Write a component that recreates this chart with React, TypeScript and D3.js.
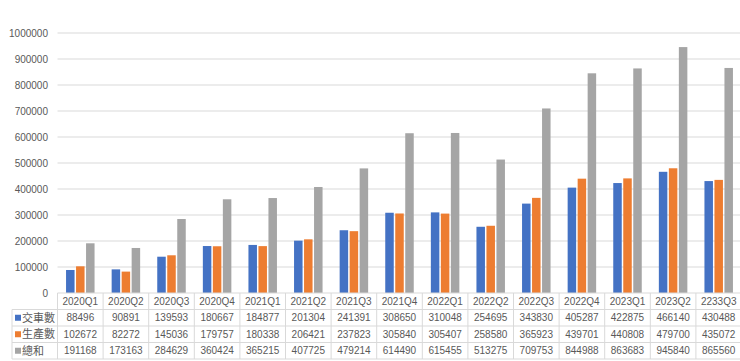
import React, { useRef, useEffect } from 'react';
import * as d3 from 'd3';

const quarters = [
  '2020Q1', '2020Q2', '2020Q3', '2020Q4', '2021Q1', '2021Q2', '2021Q3', '2021Q4',
  '2022Q1', '2022Q2', '2022Q3', '2022Q4', '2023Q1', '2023Q2', '2233Q3',
];
const delivered = [
  88496, 90891, 139593, 180667, 184877, 201304, 241391, 308650,
  310048, 254695, 343830, 405287, 422875, 466140, 430488,
];
const produced = [
  102672, 82272, 145036, 179757, 180338, 206421, 237823, 305840,
  305407, 258580, 365923, 439701, 440808, 479700, 435072,
];
const total = [
  191168, 173163, 284629, 360424, 365215, 407725, 479214, 614490,
  615455, 513275, 709753, 844988, 863683, 945840, 865560,
];
const seriesNames = ['交車數', '生產數', '總和'];
const seriesColors = ['#4472C4', '#ED7D31', '#A5A5A5'];
const yTicks = [0, 100000, 200000, 300000, 400000, 500000, 600000, 700000, 800000, 900000, 1000000];

const W = 740;
const H = 361;

const App: React.FC = () => {
  const svgRef = useRef<SVGSVGElement | null>(null);

  useEffect(() => {
    const svg = d3.select(svgRef.current);
    svg.selectAll('*').remove();

    const left = 57.5;
    const right = 741.5;
    const y0 = 293;
    const rowH = 16.5;
    const textCol = '#595959';
    const lineCol = '#D9D9D9';
    const font = "'Liberation Sans', Arial, sans-serif";
    const cjk = "'Noto Sans CJK TC', 'Noto Sans CJK SC', sans-serif";

    const series = [delivered, produced, total];

    const x = d3.scaleBand<string>().domain(quarters).range([left, right]).padding(0);
    const xs = d3.scaleBand<number>().domain([0, 1, 2]).range([0, x.bandwidth()])
      .paddingInner(0.15).paddingOuter(0.855);
    const y = d3.scaleLinear().domain([0, 1000000]).range([y0, 33]);

    // gridlines
    svg.append('g').selectAll('line').data(yTicks.slice(1)).join('line')
      .attr('x1', left).attr('x2', right)
      .attr('y1', d => y(d)).attr('y2', d => y(d))
      .attr('stroke', lineCol).attr('stroke-width', 1);

    // y labels
    svg.append('g').selectAll('text').data(yTicks).join('text')
      .attr('x', 48).attr('y', d => y(d))
      .attr('dy', '0.35em')
      .attr('text-anchor', 'end')
      .style('font-family', font).style('font-size', '10px')
      .attr('fill', textCol)
      .text(d => d);

    // bars
    series.forEach((vals, si) => {
      svg.append('g').selectAll('rect').data(vals).join('rect')
        .attr('x', (d, i) => (x(quarters[i]) as number) + (xs(si) as number))
        .attr('width', xs.bandwidth())
        .attr('y', d => y(d))
        .attr('height', d => y0 - y(d))
        .attr('fill', seriesColors[si]);
    });

    // data table
    const table = svg.append('g');
    const rowsY = [y0, y0 + rowH, y0 + rowH * 2, y0 + rowH * 3, y0 + rowH * 4];
    // horizontal lines
    rowsY.forEach((ry, i) => {
      table.append('line')
        .attr('x1', i === 0 ? left : 12).attr('x2', right)
        .attr('y1', ry).attr('y2', ry)
        .attr('stroke', lineCol);
    });
    // vertical lines
    quarters.forEach(q => {
      const cx = x(q) as number;
      table.append('line')
        .attr('x1', cx).attr('x2', cx)
        .attr('y1', y0).attr('y2', rowsY[4])
        .attr('stroke', lineCol);
    });
    table.append('line')
      .attr('x1', 12).attr('x2', 12)
      .attr('y1', rowsY[1]).attr('y2', rowsY[4])
      .attr('stroke', lineCol);

    // header labels
    table.selectAll('text.hdr').data(quarters).join('text')
      .attr('class', 'hdr')
      .attr('x', d => (x(d) as number) + x.bandwidth() / 2)
      .attr('y', y0 + rowH / 2 + 0.5)
      .attr('dy', '0.35em')
      .attr('text-anchor', 'middle')
      .style('font-family', font).style('font-size', '10px')
      .attr('fill', textCol)
      .text(d => d);

    series.forEach((vals, si) => {
      const cy = rowsY[si + 1] + rowH / 2;
      table.append('rect')
        .attr('x', 15).attr('y', cy - 3).attr('width', 6).attr('height', 6)
        .attr('fill', seriesColors[si]);
      table.append('text')
        .attr('x', 22).attr('y', cy).attr('dy', '0.36em')
        .style('font-family', cjk).style('font-size', '11px')
        .attr('fill', textCol)
        .text(seriesNames[si]);
      table.append('g').selectAll('text').data(vals).join('text')
        .attr('x', (d, i) => (x(quarters[i]) as number) + x.bandwidth() / 2)
        .attr('y', cy).attr('dy', '0.35em')
        .attr('text-anchor', 'middle')
        .style('font-family', font).style('font-size', '10px')
        .attr('fill', textCol)
        .text(d => d);
    });
  }, []);

  return (
    <svg
      ref={svgRef}
      width={W}
      height={H}
      style={{ position: 'absolute', left: 0, top: 0, background: '#fff' }}
    />
  );
};

export default App;
